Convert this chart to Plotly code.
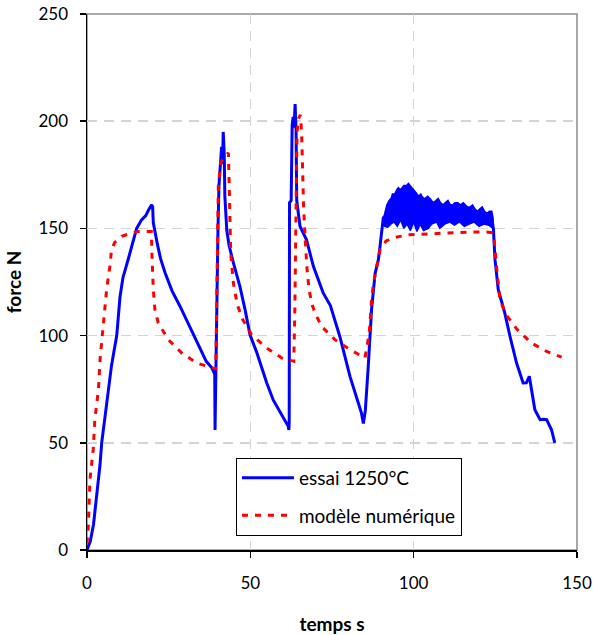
import plotly.graph_objects as go

# ---- data ----
essai_t = [0, 1, 2, 3, 4, 4.5, 5.5, 6.5, 7.5, 8.3, 9.1, 10.1, 11, 12.6, 14, 15.2, 16.7, 18, 19, 19.8,
           20.1, 20.3, 21.5, 22.5, 23.9, 26, 28.5, 30.5, 32.5, 34.6, 36.5, 38.2, 39.1, 39.2, 39.3, 39.5,
           39.7, 40.1, 40.4, 40.8, 41.2, 41.5, 41.7, 42, 42.2, 42.8, 43.5, 44.8, 46.8, 48.4, 49.9, 52, 55,
           57, 59.5, 61.6, 61.8, 61.9, 62.0, 62.5, 62.8, 63.1, 63.4, 63.7, 64.0, 64.2, 65.2, 67.2, 69.3,
           72.3, 74.5, 77.4, 80.5, 83, 84, 84.6, 85.2, 86.1, 87.1, 88.2, 89.2, 89.7, 90.7, 95, 100, 105,
           110, 115, 120, 124.0, 124.4, 124.9, 125.9, 127.9, 129.5, 131.5, 133.5, 134.5, 135.4, 136.1,
           137.1, 138.7, 139.7, 140.7, 141.5, 142.2, 143.2]
essai_f = [0, 4, 12, 25, 40, 50, 62, 75, 86, 93, 100, 118, 127, 135.5, 143, 150, 154, 156, 159, 161,
           160, 152.6, 143, 136, 129.3, 121, 113.6, 107, 100.4, 93.5, 88, 85, 82, 56, 70, 82,
           113, 150, 170, 182, 188, 180, 195, 185, 165, 149, 142, 134, 123, 112, 100.4, 92, 78,
           70, 63, 57.7, 56, 60, 162, 163, 198, 202, 197, 208, 196, 163, 151, 144.7, 132.3,
           119.9, 114, 99.6, 81, 68.6, 64, 59, 65, 85.6, 112, 129, 135.4, 141.6, 155, 160, 158, 157,
           157, 156, 155, 154, 150, 135.4, 121.4, 110.5, 99.6, 87.2, 77.9, 78, 81, 74.8,
           65.4, 60.8, 61, 60.8, 58, 56.1, 50]

# noisy plateau envelope of the test signal
band_top_t = [90.5, 91.2, 91.8, 92.5, 93.1, 93.5, 94.2, 94.8, 95.3, 96, 96.6, 97, 97.8, 98.4, 98.9,
              99.5, 100.2, 100.5, 101.1, 101.5, 102.2, 102.5, 103.1, 103.5, 104.3, 105, 105.5, 106,
              106.8, 107.5, 108.2, 109, 109.7, 110.5, 111.2, 112, 112.6, 113.5, 114.3, 115.2, 115.8,
              116.5, 117.3, 118, 118.8, 119.5, 120.2, 121, 121.7, 122.5, 123.2, 123.9, 124.3]
band_top_f = [153, 158, 161, 163, 164, 166, 166, 168, 169, 168, 169, 170, 170, 171, 170,
              169, 168, 167, 166, 165, 166, 165, 164, 164, 165, 164, 163, 162,
              163, 164, 162, 161, 162, 163, 161, 161, 162, 162, 161, 162, 161,
              160, 160, 161, 159, 158, 159, 160, 158, 157, 158, 158, 155]
band_bot_t = [124.3, 123, 121.5, 120, 118.5, 117, 115.5, 114, 112.5, 111, 109.5, 108, 107, 105.5,
              104.5, 103, 102, 101, 100, 99, 98, 97, 96, 95, 94, 93, 92, 91, 90.5]
band_bot_f = [150, 151.5, 152, 151, 153, 152, 151, 153, 151.5, 153, 152, 150, 153, 152,
              150, 149, 152, 148.6, 153, 149, 152, 150, 154, 151, 153, 152, 150.5, 151, 153]

modele_t = [0, 0.4, 0.9, 1.9, 2.4, 3.5, 4, 5, 6, 7, 7.5, 8.5, 10.6, 13, 15.7, 18, 19.7, 19.9, 20.3,
            20.8, 21.8, 24.9, 29, 33.6, 38.2, 39.4, 39.7, 40.2, 40.9, 42, 43.3, 43.6, 43.8, 44, 44.8,
            46, 47.7, 50.4, 55, 59.6, 63.3, 63.6, 64.0, 64.3, 64.7, 65.3, 65.7, 66.0, 66.3, 66.8, 67.3,
            68.0, 69, 69.8, 71.8, 75.9, 80.5, 85.1, 86.4, 87.1, 87.7, 88.7, 89.7, 91.5, 93.3, 98.3, 108,
            117.2, 122.3, 124, 124.6, 125.0, 125.5, 125.9, 126.4, 128.3, 131.7, 136.1, 140.7, 145.3]
modele_f = [3, 11, 32.8, 46.8, 60.8, 74.8, 89, 105.9, 121.4, 132.3, 140, 143.5, 146.3, 147.5, 148.6,
            148.6, 148.6, 137, 121.4, 112, 105.9, 98.1, 91.9, 87.2, 84.9, 84.5, 113.6, 169.6, 180.5,
            183.5, 185.2, 169.6, 154, 138.5, 124.5, 114.4, 107.4, 100.4, 94.2, 89.6, 88, 110, 160, 195,
            201, 203, 195, 175, 160, 145, 132, 121, 114, 110.5, 104.3, 98.1, 93.4, 89.6, 101.2, 116.7,
            124.5, 132.3, 140, 144, 145.5, 147, 147.8, 148.3, 148.3, 148, 145.5, 137, 130, 124.5, 116.7,
            109.7, 102.8, 96.5, 92.6, 90]

x_ticks = [0, 50, 100, 150]
y_ticks = [0, 50, 100, 150, 200, 250]

FONT = "Lato"
BLUE = "#0000ff"
RED = "#ff0000"

fig = go.Figure()

fig.add_trace(go.Scatter(
    x=band_top_t + band_bot_t, y=band_top_f + band_bot_f,
    mode="lines", fill="toself", fillcolor=BLUE,
    line=dict(color=BLUE, width=1.5), showlegend=False, hoverinfo="skip"))

fig.add_trace(go.Scatter(
    x=essai_t, y=essai_f, mode="lines", name="essai 1250°C",
    line=dict(color=BLUE, width=3), legendgroup="a"))

fig.add_trace(go.Scatter(
    x=modele_t, y=modele_f, mode="lines", name="modèle numérique",
    line=dict(color=RED, width=3, dash="6px,7px"), legendgroup="b"))

fig.add_shape(type="rect", xref="paper", yref="paper", x0=0, y0=0, x1=1, y1=1,
              line=dict(color="#8c8c8c", width=1.5), layer="below")

axis_common = dict(
    automargin=False,
    ticklabeloverflow="allow",
    showgrid=True, gridcolor="#d4d4d4", gridwidth=1.5, griddash="10px,7px",
    zeroline=False, showline=True, linecolor="#000000", linewidth=1.5,
    ticks="outside", ticklen=6, tickcolor="#000000", tickwidth=1.5,
    tickfont=dict(family=FONT, size=17, color="#000000"),
)

fig.update_xaxes(range=[0, 150], tickvals=x_ticks, ticklabelstandoff=11,
                 title=dict(text="temps s", font=dict(family=FONT, size=19, color="#000000", weight="bold"),
                            standoff=33),
                 **axis_common)
fig.update_yaxes(range=[0, 250], tickvals=y_ticks, ticklabelstandoff=8,
                 title=dict(text="force N", font=dict(family=FONT, size=19, color="#000000", weight="bold"),
                            standoff=12),
                 **axis_common)

fig.update_layout(
    width=593, height=635,
    margin=dict(l=87, r=16, t=14, b=85),
    plot_bgcolor="#ffffff", paper_bgcolor="#ffffff",
    font=dict(family=FONT, size=17, color="#000000"),
    legend=dict(x=0.304, y=0.172, xanchor="left", yanchor="top",
                bgcolor="#ffffff", bordercolor="#000000", borderwidth=1,
                font=dict(family=FONT, size=19, color="#000000"),
                traceorder="grouped", tracegroupgap=10, itemwidth=52),
    showlegend=True,
)

# remove the default page margin so the figure sits at the window's top-left corner
fig.write_html("out.html",
               config={"displayModeBar": False, "staticPlot": True},
               post_script="document.body.style.margin='0px';document.body.style.overflow='hidden';")
